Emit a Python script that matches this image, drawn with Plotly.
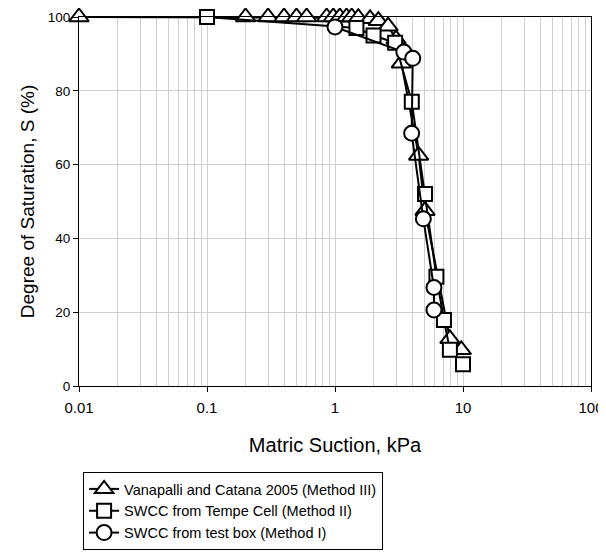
import plotly.graph_objects as go

# Vanapalli and Catana 2005 (Method III)
van_x = [0.01, 0.2, 0.3, 0.4, 0.5, 0.6, 0.86, 0.97, 1.09, 1.23, 1.35, 1.52, 1.88, 2.18, 2.6, 3.0, 3.3, 4.5, 5.05, 7.9, 9.7]
van_s = [100, 100, 100, 100, 100, 100, 100, 100, 100, 100, 100, 99.8, 99.5, 99, 97.5, 94, 87.5, 62.5, 47.5, 12.8, 9.8]

# SWCC from Tempe Cell (Method II)
tempe_x = [0.1, 1.47, 2.0, 2.95, 3.98, 5.05, 6.2, 7.1, 7.9, 10.0]
tempe_s = [100, 97, 95, 93, 77, 52, 29.6, 17.9, 9.8, 5.9]

# SWCC from test box (Method I)
box_x = [1.0, 3.45, 4.05, 3.97, 4.9, 5.93, 5.93]
box_s = [97.3, 90.5, 88.8, 68.5, 45.3, 26.7, 20.6]

names = ["Vanapalli and Catana 2005 (Method III)",
         "SWCC from Tempe Cell (Method II)",
         "SWCC from test box (Method I)"]

x_ticks = [0.01, 0.1, 1, 10, 100]
x_tick_labels = ["0.01", "0.1", "1", "10", "100"]
y_ticks = [0, 20, 40, 60, 80, 100]

fig = go.Figure()
series = [(van_x, van_s, "triangle-up", 17), (tempe_x, tempe_s, "square", 14), (box_x, box_s, "circle", 15)]
for (xs, ys, sym, sz), nm in zip(series, names):
    fig.add_trace(go.Scatter(
        x=xs, y=ys, mode="lines+markers", name=nm, cliponaxis=False,
        line=dict(color="black", width=2),
        marker=dict(symbol=sym, size=sz, color="white", line=dict(color="black", width=2)),
    ))

grid = "#d0d0d0"
# page body has an 8px default margin, so the figure is drawn from (8, 8)
fig.update_layout(
    width=598, height=550,
    margin=dict(l=71, r=15, t=9, b=172, autoexpand=False),
    paper_bgcolor="white", plot_bgcolor="white",
    font=dict(family="Liberation Sans, Arial, sans-serif", color="black", size=13),
    showlegend=True,
    legend=dict(x=0.008, y=-0.233, xanchor="left", yanchor="top",
                bordercolor="black", borderwidth=1, font=dict(size=14.5),
                tracegroupgap=0, itemwidth=30),
    xaxis=dict(type="log", range=[-2, 2], tickvals=x_ticks, ticktext=x_tick_labels,
               automargin=False,
               showgrid=True, gridcolor=grid, gridwidth=1,
               minor=dict(dtick="D1", showgrid=True, gridcolor=grid, gridwidth=1, ticks=""),
               showline=True, linecolor="black", linewidth=1, mirror=True,
               ticks="outside", ticklen=5, tickcolor="black", ticklabelstandoff=3,
               tickfont=dict(size=15),
               title=dict(text="Matric Suction, kPa", font=dict(size=20), standoff=22)),
    yaxis=dict(range=[0, 100], tickvals=y_ticks, automargin=False,
               showgrid=True, gridcolor=grid, gridwidth=1, zeroline=False,
               showline=True, linecolor="black", linewidth=1, mirror=True,
               ticks="outside", ticklen=5, tickcolor="black",
               tickfont=dict(size=13.5),
               title=dict(text="Degree of Saturation, S (%)", font=dict(size=19), standoff=8)),
)

fig.write_html("out.html")
